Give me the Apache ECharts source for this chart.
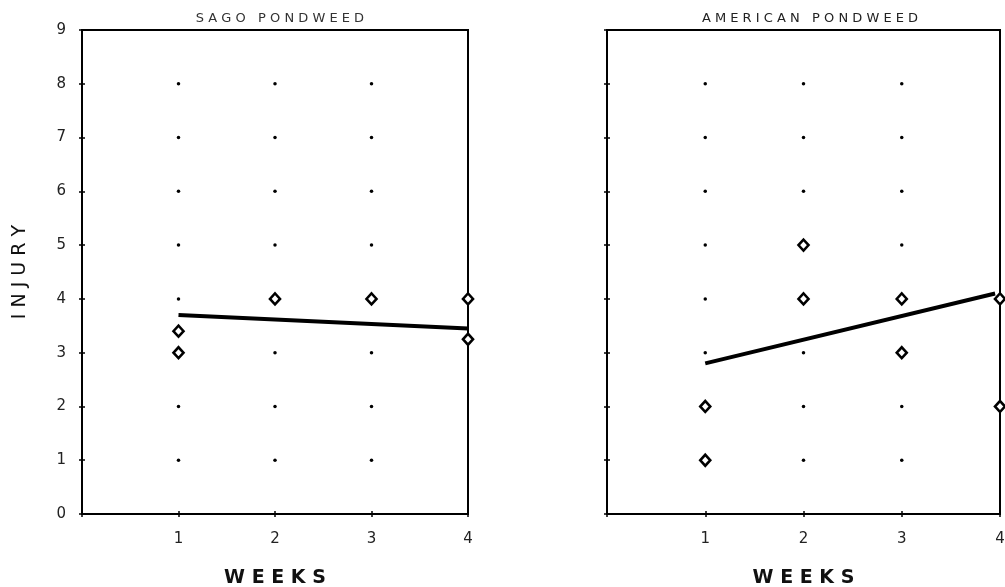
<!DOCTYPE html>
<html>
<head>
<meta charset="utf-8">
<script src="https://cdn.jsdelivr.net/npm/echarts@6/dist/echarts.min.js"></script>
<style>
  html, body { margin: 0; padding: 0; background: #fff; }
  #chart { width: 1005px; height: 587px; }
</style>
</head>
<body>
<div id="chart"></div>
<script>
// Injury ratings by week for two pondweed species
const panelTitles = ['S A G O   P O N D W E E D', 'A M E R I C A N   P O N D W E E D'];
const weekTicks = [1, 2, 3, 4];
const injuryTicks = [1, 2, 3, 4, 5, 6, 7, 8];

// observed ratings [week, injury]
const sagoObs = [[1, 3], [1, 3.4], [2, 4], [3, 4], [4, 4], [4, 3.25]];
const americanObs = [[1, 1], [1, 2], [2, 4], [2, 5], [3, 3], [3, 4], [4, 4], [4, 2]];

// fitted regression lines [week, injury]
const sagoFit = [[1, 3.7], [4, 3.45]];
const americanFit = [[1, 2.8], [3.95, 4.1]];

// reference dots at every interior week/injury intersection
const refDots = [];
weekTicks.slice(0, 3).forEach(w => injuryTicks.forEach(v => refDots.push([w, v])));

const FONT = 'DejaVu Sans';
const tickStyle = { show: true, inside: true, length: 3, lineStyle: { color: '#000', width: 1.5 } };

function xAxes(gridIndex) {
  return [{
    gridIndex, type: 'value', min: 0, max: 4, interval: 1,
    axisLine: { show: false }, axisTick: tickStyle, splitLine: { show: false },
    axisLabel: {
      margin: 18, fontFamily: FONT, fontSize: 15, color: '#222',
      formatter: v => (v === 0 ? '' : String(v))
    },
    name: 'W E E K S', nameLocation: 'middle', nameGap: 55,
    nameTextStyle: { fontFamily: FONT, fontSize: 19, fontWeight: 'bold', color: '#111' }
  }, {
    gridIndex, type: 'value', position: 'top', min: 0, max: 4, interval: 1,
    axisLine: { show: false }, axisTick: tickStyle, splitLine: { show: false },
    axisLabel: { show: false }
  }];
}

function yAxes(gridIndex, showLabels) {
  return [{
    gridIndex, type: 'value', min: 0, max: 9, interval: 1,
    axisLine: { show: false }, axisTick: tickStyle, splitLine: { show: false },
    axisLabel: { show: showLabels, margin: 16, fontFamily: FONT, fontSize: 15, color: '#222' },
    name: showLabels ? 'I N J U R Y' : '', nameLocation: 'middle', nameGap: 52, nameRotate: 90,
    nameTextStyle: { fontFamily: FONT, fontSize: 19, color: '#111' }
  }, {
    gridIndex, type: 'value', position: 'right', min: 0, max: 9, interval: 1,
    axisLine: { show: false }, axisTick: tickStyle, splitLine: { show: false },
    axisLabel: { show: false }
  }];
}

function panelSeries(idx, obs, fit) {
  const ax = { xAxisIndex: idx * 2, yAxisIndex: idx * 2 };
  return [
    {
      type: 'scatter', ...ax, data: refDots,
      symbol: 'circle', symbolSize: 3.5, itemStyle: { color: '#000', opacity: 1 }, silent: true
    },
    {
      type: 'line', ...ax, data: fit,
      symbol: 'none', lineStyle: { color: '#000', width: 4 }, clip: false
    },
    {
      type: 'scatter', ...ax, data: obs,
      symbol: 'diamond', symbolSize: [10, 11], clip: false, z: 5,
      itemStyle: { color: '#fff', borderColor: '#000', borderWidth: 2.6, opacity: 1 }
    }
  ];
}

const gridBase = {
  top: 30, height: 484, show: true, borderColor: '#000', borderWidth: 2,
  backgroundColor: 'transparent', containLabel: false, outerBoundsMode: 'none'
};

const chart = echarts.init(document.getElementById('chart'), null, { renderer: 'canvas' });
chart.setOption({
  backgroundColor: '#fff',
  animation: false,
  title: [
    { text: panelTitles[0], left: 275, top: 7, textAlign: 'center',
      textStyle: { fontFamily: FONT, fontSize: 13, fontWeight: 'normal', color: '#333' } },
    { text: panelTitles[1], left: 805, top: 7, textAlign: 'center',
      textStyle: { fontFamily: FONT, fontSize: 13, fontWeight: 'normal', color: '#222' } }
  ],
  grid: [
    { ...gridBase, left: 82, width: 386 },
    { ...gridBase, left: 607, width: 393 }
  ],
  xAxis: [...xAxes(0), ...xAxes(1)],
  yAxis: [...yAxes(0, true), ...yAxes(1, false)],
  series: [...panelSeries(0, sagoObs, sagoFit), ...panelSeries(1, americanObs, americanFit)]
});
</script>
</body>
</html>
